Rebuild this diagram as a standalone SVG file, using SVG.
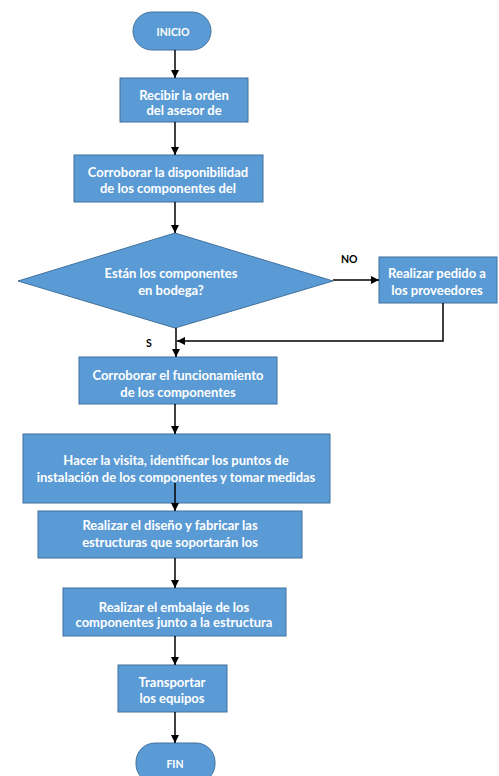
<svg xmlns="http://www.w3.org/2000/svg" width="499" height="776" viewBox="0 0 499 776">
<defs>
<style>
.n{fill:#5b9bd5;stroke:#41719c;stroke-width:1}
.t{font-family:Lato,"Open Sans","Liberation Sans",sans-serif;font-weight:bold;font-size:13px;fill:#ffffff;text-anchor:middle}
.s{font-size:10.5px}
.c{fill:none;stroke:#000000;stroke-width:1.5}
.l{font-family:Lato,"Liberation Sans",sans-serif;font-weight:bold;font-size:10.5px;fill:#000000}
</style>
<marker id="ah" viewBox="0 0 10 10" refX="10" refY="5" markerWidth="9" markerHeight="8" markerUnits="userSpaceOnUse" orient="auto">
<path d="M0,0 L10,5 L0,10 z" fill="#000000"/>
</marker>
</defs>
<rect width="499" height="776" fill="#ffffff"/>
<g id="n-inicio"><rect class="n" x="133" y="12" width="78" height="38" rx="19"/><text class="t s" x="173" y="35.5">INICIO</text></g>
<g id="n-recibir"><rect class="n" x="120" y="78" width="128" height="44"/><text class="t" x="184" y="99.5">Recibir la orden</text><text class="t" x="184" y="115">del asesor de</text></g>
<g id="n-disp"><rect class="n" x="74" y="155" width="189" height="47"/><text class="t" x="168" y="176.5">Corroborar la disponibilidad</text><text class="t" x="168" y="192.5">de los componentes del</text></g>
<g id="n-decision"><polygon class="n" points="18,281 175,233 333,281 175,328"/><text class="t" x="171" y="277.5">Están los componentes</text><text class="t" x="171" y="294.5">en bodega?</text></g>
<g id="n-pedido"><rect class="n" x="379" y="257" width="118" height="46"/><text class="t" x="437" y="277.5">Realizar pedido a</text><text class="t" x="437" y="294.5">los proveedores</text></g>
<g id="n-func"><rect class="n" x="79" y="357" width="198" height="47"/><text class="t" x="178" y="379.5">Corroborar el funcionamiento</text><text class="t" x="178" y="396.5">de los componentes</text></g>
<g id="n-visita"><rect class="n" x="23" y="434" width="307" height="69"/><text class="t" x="176" y="464.5">Hacer la visita, identificar los puntos de</text><text class="t" x="176" y="481.5">instalación de los componentes y tomar medidas</text></g>
<g id="n-diseno"><rect class="n" x="38" y="511" width="264" height="47"/><text class="t" x="170" y="529.5">Realizar el diseño y fabricar las</text><text class="t" x="170" y="546.5">estructuras que soportarán los</text></g>
<g id="n-embalaje"><rect class="n" x="63" y="588" width="223" height="48"/><text class="t" x="174" y="611.5">Realizar el embalaje de los</text><text class="t" x="174" y="627">componentes junto a la estructura</text></g>
<g id="n-transportar"><rect class="n" x="118" y="665" width="109" height="47"/><text class="t" x="172" y="686.5">Transportar</text><text class="t" x="172" y="702.5">los equipos</text></g>
<g id="n-fin"><rect class="n" x="136" y="743" width="79" height="40" rx="19"/><text class="t s" x="175" y="768">FIN</text></g>
<g id="connectors">
<line class="c" x1="175" y1="50" x2="175" y2="78" marker-end="url(#ah)"/>
<line class="c" x1="175" y1="122" x2="175" y2="155" marker-end="url(#ah)"/>
<line class="c" x1="175" y1="202" x2="175" y2="233" marker-end="url(#ah)"/>
<line class="c" x1="333" y1="280" x2="379" y2="280" marker-end="url(#ah)"/>
<polyline class="c" points="443,303 443,341 177,341" marker-end="url(#ah)"/>
<line class="c" x1="176" y1="328" x2="176" y2="357" marker-end="url(#ah)"/>
<line class="c" x1="175" y1="404" x2="175" y2="434" marker-end="url(#ah)"/>
<line class="c" x1="175" y1="483" x2="175" y2="511" marker-end="url(#ah)"/>
<line class="c" x1="175" y1="558" x2="175" y2="588" marker-end="url(#ah)"/>
<line class="c" x1="175" y1="636" x2="175" y2="665" marker-end="url(#ah)"/>
<line class="c" x1="175" y1="712" x2="175" y2="743" marker-end="url(#ah)"/>
<text class="l" x="341" y="263">NO</text>
<text class="l" x="146" y="347">S</text>
</g>
</svg>
